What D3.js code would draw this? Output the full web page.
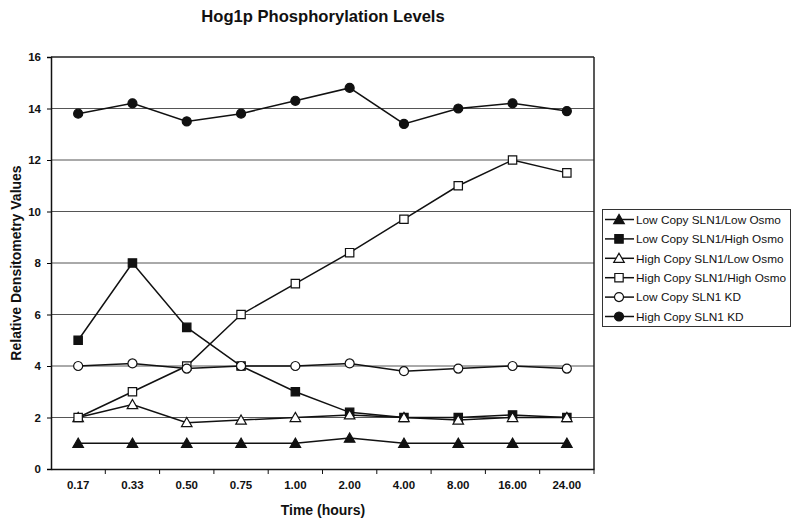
<!DOCTYPE html>
<html><head><meta charset="utf-8">
<script src="https://cdn.jsdelivr.net/npm/d3@7"></script>
<style>body{margin:0;background:#fff;} text{font-family:"Liberation Sans",Arial,sans-serif;}</style>
</head><body>
<svg id="c" width="800" height="524"></svg>
<script>
const categories = ["0.17","0.33","0.50","0.75","1.00","2.00","4.00","8.00","16.00","24.00"];
const seriesNames = ["Low Copy SLN1/Low Osmo","Low Copy SLN1/High Osmo","High Copy SLN1/Low Osmo","High Copy SLN1/High Osmo","Low Copy SLN1 KD","High Copy SLN1 KD"];
const lowLow   = [1,1,1,1,1,1.2,1,1,1,1];
const lowHigh  = [5,8,5.5,4,3,2.2,2.0,2.0,2.1,2.0];
const highLow  = [2,2.5,1.8,1.9,2.0,2.1,2.0,1.9,2.0,2.0];
const highHigh = [2,3,4,6,7.2,8.4,9.7,11.0,12.0,11.5];
const lowKD    = [4,4.1,3.9,4.0,4.0,4.1,3.8,3.9,4.0,3.9];
const highKD   = [13.8,14.2,13.5,13.8,14.3,14.8,13.4,14.0,14.2,13.9];
const yTicks = [0,2,4,6,8,10,12,14,16];

const series = [
  {name: seriesNames[0], values: lowLow,   shape: "triangle", fill: true},
  {name: seriesNames[1], values: lowHigh,  shape: "square",   fill: true},
  {name: seriesNames[2], values: highLow,  shape: "triangle", fill: false},
  {name: seriesNames[3], values: highHigh, shape: "square",   fill: false},
  {name: seriesNames[4], values: lowKD,    shape: "circle",   fill: false},
  {name: seriesNames[5], values: highKD,   shape: "circle",   fill: true}
];

const svg = d3.select("#c");
const L = 51, R = 594, T = 57, B = 469;
const x = d3.scaleBand().domain(categories).range([L, R]);
const y = d3.scaleLinear().domain([0, 16]).range([B, T]);
const cx = c => x(c) + x.bandwidth() / 2;

// gridlines
svg.append("g").selectAll("line").data(yTicks.filter(d => d > 0)).join("line")
  .attr("x1", L).attr("x2", R).attr("y1", d => y(d)).attr("y2", d => y(d))
  .attr("stroke", d => d === 16 ? "#222" : "#555").attr("stroke-width", d => d === 16 ? 1.5 : 1);

// right border
svg.append("line").attr("x1", R).attr("x2", R).attr("y1", T).attr("y2", B).attr("stroke", "#222").attr("stroke-width", 1.5);

// y axis
const yAxis = d3.axisLeft(y).tickValues(yTicks).tickSize(4).tickPadding(6).tickFormat(d3.format("d"));
const gy = svg.append("g").attr("transform", `translate(${L},0)`).call(yAxis);
gy.select(".domain").attr("stroke", "#111").attr("stroke-width", 1.5);
gy.selectAll("text").attr("font-size", 11.5).attr("font-weight", "bold").attr("fill", "#111");

// x axis
const xAxis = d3.axisBottom(x).tickSize(0).tickPadding(12);
const gx = svg.append("g").attr("transform", `translate(0,${B})`).call(xAxis);
gx.select(".domain").attr("stroke", "#111").attr("stroke-width", 1.5);
gx.selectAll("text").attr("font-size", 11.5).attr("font-weight", "bold").attr("fill", "#111");
// x boundary ticks
svg.append("g").selectAll("line").data(categories.slice(1).concat(["_end"])).join("line")
  .attr("x1", d => d === "_end" ? R : x(d)).attr("x2", d => d === "_end" ? R : x(d))
  .attr("y1", B).attr("y2", B + 5).attr("stroke", "#111").attr("stroke-width", 1);

// lines
const line = d3.line().x((d, i) => cx(categories[i])).y(d => y(d));
const sym = {
  triangle: d3.symbol().type(d3.symbolTriangle).size(48),
  square: d3.symbol().type(d3.symbolSquare).size(70),
  circle: d3.symbol().type(d3.symbolCircle).size(64)
};
series.forEach(s => {
  svg.append("path").datum(s.values).attr("d", line).attr("fill", "none").attr("stroke", "#111").attr("stroke-width", 1.5);
});
series.forEach(s => {
  svg.append("g").selectAll("path").data(s.values).join("path")
    .attr("d", sym[s.shape])
    .attr("transform", (d, i) => `translate(${cx(categories[i])},${y(d) + (s.shape === "triangle" ? 1 : 0)})`)
    .attr("fill", s.fill ? "#111" : "#fff").attr("stroke", "#111").attr("stroke-width", 1.2);
});

// titles
svg.append("text").attr("x", 323).attr("y", 22).attr("text-anchor", "middle")
  .attr("font-size", 16.6).attr("font-weight", "bold").attr("fill", "#111").text("Hog1p Phosphorylation Levels");
svg.append("text").attr("x", 323).attr("y", 515).attr("text-anchor", "middle")
  .attr("font-size", 14).attr("font-weight", "bold").attr("fill", "#111").text("Time (hours)");
svg.append("text").attr("transform", "translate(21,263) rotate(-90)").attr("text-anchor", "middle")
  .attr("font-size", 14).attr("font-weight", "bold").attr("fill", "#111").text("Relative Densitometry Values");

// legend
const lg = svg.append("g");
lg.append("rect").attr("x", 602.5).attr("y", 209.5).attr("width", 188).attr("height", 117)
  .attr("fill", "#fff").attr("stroke", "#333").attr("stroke-width", 1);
series.forEach((s, i) => {
  const yy = 219.5 + i * 19.4;
  lg.append("line").attr("x1", 605).attr("x2", 634).attr("y1", yy).attr("y2", yy).attr("stroke", "#111").attr("stroke-width", 1.5);
  lg.append("path").attr("d", sym[s.shape]).attr("transform", `translate(619,${yy + (s.shape === "triangle" ? 1 : 0)})`)
    .attr("fill", s.fill ? "#111" : "#fff").attr("stroke", "#111").attr("stroke-width", 1.2);
  lg.append("text").attr("x", 636).attr("y", yy).attr("dy", "0.36em").attr("font-size", 11.8).attr("fill", "#111").text(s.name);
});
</script>
</body></html>
